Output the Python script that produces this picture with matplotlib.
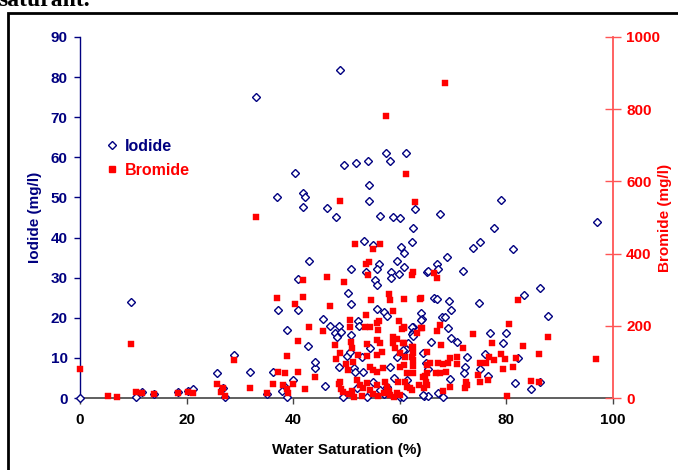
import matplotlib
matplotlib.use("Agg")
import matplotlib.pyplot as plt
from matplotlib.patches import Rectangle
from matplotlib.lines import Line2D

# ---------------- data ----------------
iodide_x = [0, 9.5, 10.5, 11.7, 13.8, 18.4, 20.3, 21.2, 25.7, 26.8, 27.2, 28.9, 31.9, 35.0,
            33.0, 48.8, 57.4, 61.2, 49.5, 51.8, 54.0, 58.2, 40.3, 54.2, 37.0, 41.8, 42.2, 41.8,
            54.2, 46.3, 62.9, 48.0, 56.3, 58.7, 60.0, 62.5, 67.5, 79.0, 97.0, 77.7,
            62.3, 53.3, 55.0, 60.2, 60.8, 43.0, 56.1, 59.5, 60.8, 50.8, 55.7, 53.7, 58.3, 58.3,
            59.8, 65.1, 40.9, 55.3, 55.7, 50.3, 50.8, 37.1, 40.9, 55.7, 64.0, 57.0, 57.6, 45.6,
            64.2, 52.2, 73.7, 75.0, 81.2, 68.9, 67.0, 65.3, 67.2, 71.9, 86.3, 83.3, 87.8, 74.9,
            66.4, 66.9, 69.2, 69.6, 64.0, 67.9, 68.5, 69.0, 62.5, 62.5, 69.6, 70.7, 76.9, 79.9,
            79.4, 65.9, 61.2, 64.4, 72.6, 76.0, 82.2, 72.2, 64.9, 65.3, 72.0, 75.0, 76.5, 69.4,
            61.4, 81.6, 84.6, 86.3, 64.5, 65.3, 68.1, 67.2, 60.0, 46.9, 48.6, 47.8, 48.2, 49.0,
            38.8, 50.8, 52.3, 62.3, 62.5, 62.3, 36.2, 44.1, 40.0, 38.5, 38.8, 37.9, 48.6, 50.1,
            50.7, 52.9, 51.4, 51.6, 53.1, 49.3, 53.8, 56.3, 57.6, 58.2, 59.5, 60.6, 61.5, 62.5,
            64.4, 60.6, 42.7, 44.0, 46.0, 55.0, 57.0, 59.0, 52.0, 54.5]
iodide_y = [0, 24.0, 0.3, 1.5, 1.0, 1.5, 1.7, 2.2, 6.2, 2.5, 0.3, 10.7, 6.5, 1.0,
            75.0, 81.8, 61.1, 61.1, 58.1, 58.6, 59.1, 59.1, 56.1, 53.1, 50.1, 51.1, 50.1, 47.6,
            49.1, 47.4, 47.1, 45.1, 45.4, 45.1, 44.9, 42.4, 45.9, 49.4, 43.9, 42.4,
            38.9, 39.1, 38.1, 37.6, 36.2, 34.2, 33.4, 34.2, 32.7, 32.2, 32.2, 31.4, 31.4, 29.9,
            30.9, 31.4, 29.7, 29.4, 28.2, 26.2, 23.4, 21.9, 21.9, 22.2, 21.2, 21.4, 20.4, 19.7,
            19.7, 19.2, 37.4, 38.9, 37.1, 35.2, 33.4, 31.7, 32.2, 31.7, 27.4, 25.7, 20.4, 23.7,
            24.9, 24.7, 24.2, 21.9, 19.4, 20.2, 20.2, 17.5, 17.7, 15.7, 15.0, 14.0, 16.2, 16.2,
            13.7, 14.0, 12.2, 11.2, 10.2, 11.0, 10.0, 7.7, 8.7, 7.2, 6.2, 7.2, 5.5, 4.7,
            4.5, 3.7, 2.2, 4.0, 0.5, 0.5, 0.2, 1.2, 0.3, 18.0, 18.0, 16.2, 15.2, 16.5,
            17.0, 15.7, 18.0, 17.7, 16.5, 16.0, 6.5, 7.5, 4.5, 2.7, 0.2, 1.7, 7.7, 10.5,
            11.5, 10.2, 7.5, 6.5, 6.5, 0.2, 0.2, 2.0, 2.7, 7.7, 10.2, 12.0, 13.7, 15.5,
            0.7, 0.2, 13.0, 9.0, 3.0, 4.0, 1.0, 5.0, 2.5, 12.5]

bromide_x = [0, 5.2, 7.0, 9.5, 10.5, 11.7, 13.8, 18.4, 20.3, 21.2, 25.7, 26.4, 26.8, 27.2,
             28.9, 31.9, 35.0, 57.4, 61.2, 48.8, 62.9, 33.0, 68.5,
             51.6, 56.3, 55.0, 53.7, 54.2, 54.0, 62.5, 62.3, 41.8, 46.3, 49.5, 58.0, 58.2, 60.8,
             63.8, 37.0, 41.8, 40.3, 54.6, 46.9, 58.7, 53.7, 56.1, 59.8,
             66.4, 67.0, 64.0, 82.2, 80.5, 87.8, 73.7, 77.3, 83.1, 86.1, 96.8, 64.0, 67.5, 60.8,
             67.0, 67.7, 71.9, 62.5, 60.8, 62.5, 65.1, 69.4, 70.7, 69.0, 70.7, 65.7, 67.2, 68.1,
             75.0, 76.2, 76.7, 77.7, 79.0, 79.7, 81.8, 81.2, 79.4, 74.7, 75.0, 76.5, 84.6, 86.1,
             80.1, 72.4, 72.2, 72.6, 68.1, 69.4, 65.1, 64.4, 64.9, 64.5, 66.8, 67.5, 68.7, 61.4,
             62.5, 62.3, 61.4, 62.5, 60.8, 63.6,
             36.2, 38.1, 38.8, 39.0, 38.5, 37.1, 40.9, 42.2, 40.0, 44.1, 38.8, 40.9, 43.0, 45.6,
             47.8, 48.8, 48.0, 48.8, 49.3, 49.9, 50.7, 50.8, 51.0, 51.2, 50.3, 52.2, 52.0, 52.5,
             53.1, 51.4, 53.8, 53.8, 53.5, 54.4, 55.7, 55.9, 55.7, 56.3, 55.7, 56.7, 55.0, 54.4,
             55.7, 53.8, 54.4, 55.7, 56.8, 57.2, 57.6, 58.2, 58.7, 59.1, 60.0, 59.7, 59.5, 60.6,
             61.0, 62.3, 62.3, 62.5, 61.0, 61.9, 60.0, 65.1, 64.7, 65.1, 60.8, 60.4, 63.2, 64.2,
             58.7, 59.5, 50.7, 48.5, 49.0, 50.5, 51.0, 53.0, 55.0, 56.0, 57.0, 58.0, 59.0, 60.0]
bromide_y = [80, 5, 3, 150, 17, 14, 11, 14, 17, 14, 39, 17, 28, 5,
             105, 28, 14, 781, 620, 546, 543, 501, 873,
             427, 427, 413, 371, 377, 341, 349, 341, 327, 335, 321, 288, 271, 274,
             274, 277, 280, 260, 271, 255, 241, 230, 213, 213,
             346, 332, 277, 271, 205, 169, 177, 152, 144, 122, 108, 194, 202, 194,
             186, 147, 139, 141, 152, 125, 127, 111, 114, 97, 94, 97, 97, 94,
             97, 97, 114, 105, 122, 108, 111, 86, 80, 64, 44, 50, 47, 44,
             5, 44, 28, 36, 19, 30, 69, 58, 44, 28, 69, 69, 72, 69,
             69, 22, 30, 89, 91, 36,
             39, 36, 25, 14, 69, 72, 72, 25, 39, 58, 116, 158, 197, 186,
             147, 125, 108, 44, 17, 94, 197, 155, 139, 100, 78, 119, 50, 36,
             28, 3, 150, 116, 197, 197, 208, 188, 161, 152, 119, 127, 78, 86,
             72, 42, 22, 36, 83, 44, 30, 8, 152, 139, 125, 44, 14, 152,
             114, 141, 114, 105, 44, 28, 86, 91, 61, 36, 197, 191, 180, 194,
             169, 163, 216, 40, 25, 10, 20, 5, 10, 5, 15, 20, 3, 8]

x_ticks = [0, 20, 40, 60, 80, 100]
iod_ticks = [0, 10, 20, 30, 40, 50, 60, 70, 80, 90]
bro_ticks = [0, 200, 400, 600, 800, 1000]

NAVY = "#000080"
RED = "#ff0000"

plt.rcParams['font.family'] = ['Liberation Sans', 'DejaVu Sans']
plt.rcParams['font.weight'] = 'bold'

W, H = 678, 470
fig = plt.figure(figsize=(W / 100, H / 100), dpi=100)
fig.patch.set_facecolor("white")

# axes placement (pixel based)
l, r, t, b = 80, 613, 37, 398
ax = fig.add_axes([l / W, 1 - b / H, (r - l) / W, (b - t) / H])
ax2 = ax.twinx()

ax.plot(iodide_x, iodide_y, linestyle='none', marker='D', markersize=4.3,
        markerfacecolor='white', markeredgecolor=NAVY, markeredgewidth=1.0,
        clip_on=False, zorder=3)
ax2.plot(bromide_x, bromide_y, linestyle='none', marker='s', markersize=5.0,
         markerfacecolor=RED, markeredgecolor=RED, markeredgewidth=0.3,
         clip_on=False, zorder=3)

ax.set_xlim(0, 100)
ax.set_ylim(0, 90)
ax2.set_ylim(0, 1000)
ax.set_xticks(x_ticks)
ax.set_yticks(iod_ticks)
ax2.set_yticks(bro_ticks)

ax.spines['top'].set_visible(False)
ax2.spines['top'].set_visible(False)
ax.spines['right'].set_visible(False)
ax2.spines['left'].set_visible(False)
ax2.spines['bottom'].set_visible(False)
ax.spines['left'].set_color(NAVY)
ax.spines['left'].set_linewidth(1.0)
ax.spines['bottom'].set_color('#444444')
ax.spines['bottom'].set_linewidth(1.2)
ax2.spines['right'].set_color('#ff5555')
ax2.spines['right'].set_linewidth(1.3)

ax.tick_params(axis='x', direction='out', length=4, width=1, color='#444444',
               labelsize=11, labelcolor='black', pad=7)
ax.tick_params(axis='y', direction='out', length=4, width=1, color=NAVY,
               labelsize=11, labelcolor=NAVY, pad=5)
ax2.tick_params(axis='y', direction='inout', length=11, width=1, color='#ff5555',
                labelsize=11, labelcolor=RED, pad=4)
for lab in ax.get_xticklabels() + ax.get_yticklabels() + ax2.get_yticklabels():
    lab.set_fontweight('bold')

ax.set_xlabel("Water Saturation (%)", fontsize=11, fontweight='bold', color='black', labelpad=11)
ax.set_ylabel("Iodide (mg/l)", fontsize=11, fontweight='bold', color=NAVY)
ax2.set_ylabel("Bromide (mg/l)", fontsize=11, fontweight='bold', color=RED)
ax.yaxis.set_label_coords((35 - l) / (r - l), 0.5)
ax2.yaxis.set_label_coords((665 - l) / (r - l), 0.5)
ax.yaxis.label.set_va('center')
ax2.yaxis.label.set_va('center')

# legend (no frame)
handles = [Line2D([], [], linestyle='none', marker='D', markersize=4.3,
                  markerfacecolor='white', markeredgecolor=NAVY, markeredgewidth=1.0),
           Line2D([], [], linestyle='none', marker='s', markersize=5.0,
                  markerfacecolor=RED, markeredgecolor=RED)]
leg = ax2.legend(handles, ["Iodide", "Bromide"], loc='upper left',
                 bbox_to_anchor=((107 - l) / (r - l), (b - 139) / (b - t)),
                 frameon=False, handlelength=0.6, handletextpad=0.5,
                 labelspacing=0.55, borderaxespad=0, borderpad=0,
                 prop={'size': 11.5, 'weight': 'bold'})
leg.get_texts()[0].set_color(NAVY)
leg.get_texts()[1].set_color(RED)

# outer frame of the figure
fig.patches.append(Rectangle((8 / W, -0.1), 1.2, 1 - 13 / H + 0.1,
                             transform=fig.transFigure, fill=False,
                             edgecolor='black', linewidth=2.0, clip_on=False))

# cut-off caption at the very top (partially visible, as in the reference)
fig.text(-2 / W, 1 - 6 / H, "saturant.", family=['Liberation Serif', 'DejaVu Serif'],
         fontsize=17, fontweight='bold', color='black', ha='left', va='baseline')

fig.savefig("out.png", dpi=100, facecolor='white')
